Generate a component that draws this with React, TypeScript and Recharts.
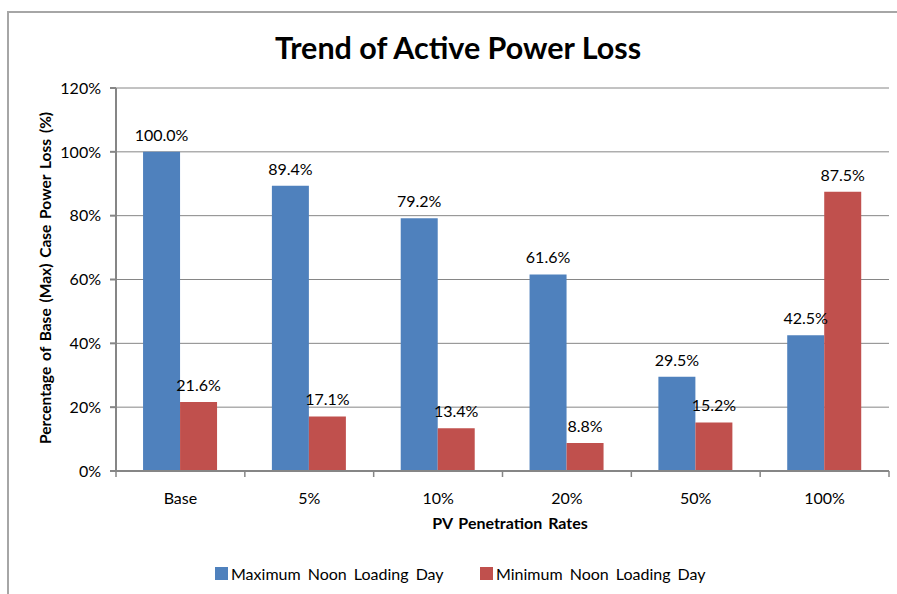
import { BarChart, Bar, XAxis, YAxis, CartesianGrid, LabelList } from 'recharts';

const categories = ['Base', '5%', '10%', '20%', '50%', '100%'];
const maxNoonDay = [100.0, 89.4, 79.2, 61.6, 29.5, 42.5];
const minNoonDay = [21.6, 17.1, 13.4, 8.8, 15.2, 87.5];
const yTicks = [0, 20, 40, 60, 80, 100, 120];

const BLUE = '#4F81BD';
const RED = '#C0504D';
const AXIS = '#868686';
const FONT = 'Lato, "Open Sans", sans-serif';

const data = categories.map((c, i) => ({
  name: c,
  max: maxNoonDay[i],
  min: minNoonDay[i],
}));

const W = 897;
const H = 594;
const M = { top: 88, right: 8, left: 36, bottom: 93 };
const Y_AXIS_W = 80;
const plotW = W - M.left - Y_AXIS_W - M.right;
const step = plotW / categories.length;

function XTick(props: any) {
  const { x, y, payload, index } = props;
  return (
    <g>
      <line x1={x - step / 2} x2={x - step / 2} y1={y} y2={y + 6} stroke={AXIS} strokeWidth={1.5} />
      {index === categories.length - 1 && (
        <line x1={x + step / 2} x2={x + step / 2} y1={y} y2={y + 6} stroke={AXIS} strokeWidth={1.5} />
      )}
      <text x={x} y={y + 26} textAnchor="middle" dominantBaseline="central" fontSize={16} fill="#000" fontFamily={FONT}>
        {payload.value}
      </text>
    </g>
  );
}

const fmt = (v: any) => `${Number(v).toFixed(1)}%`;

export default function App() {
  return (
    <div style={{ position: 'absolute', left: 0, top: 0, width: W, height: H, overflow: 'hidden', background: '#fff', fontFamily: FONT }}>
      <div style={{ position: 'absolute', left: 7, top: 11, width: 1000, height: 1000, borderLeft: '2px solid #a6a6a6', borderTop: '2px solid #a6a6a6' }} />
      <div style={{ position: 'absolute', left: 458, top: 47, transform: 'translate(-50%, -50%)', whiteSpace: 'nowrap', fontSize: 30.5, fontWeight: 700, color: '#000' }}>
        Trend of Active Power Loss
      </div>
      <BarChart
        width={W}
        height={H}
        data={data}
        margin={M}
        barCategoryGap="21%"
        barGap={0}
        style={{ position: 'absolute', left: 0, top: 0 }}
      >
        <CartesianGrid vertical={false} stroke={AXIS} strokeWidth={1} />
        <XAxis
          dataKey="name"
          stroke={AXIS}
          strokeWidth={2}
          tickLine={false}
          tickSize={0}
          tickMargin={0}
          height={30}
          tick={<XTick />}
          interval={0}
        />
        <YAxis
          width={Y_AXIS_W}
          domain={[0, 120]}
          ticks={yTicks}
          stroke={AXIS}
          strokeWidth={2}
          tickSize={6}
          tickMargin={9}
          tickFormatter={(v) => `${v}%`}
          tick={{ fontSize: 16, fill: '#000', fontFamily: FONT }}
        />
        <Bar dataKey="max" name="Maximum Noon Loading Day" fill={BLUE} isAnimationActive={false}>
          <LabelList dataKey="max" position="top" offset={11} formatter={fmt} fontSize={16} fill="#000" fontFamily={FONT} />
        </Bar>
        <Bar dataKey="min" name="Minimum Noon Loading Day" fill={RED} isAnimationActive={false}>
          <LabelList dataKey="min" position="top" offset={11} formatter={fmt} fontSize={16} fill="#000" fontFamily={FONT} />
        </Bar>
      </BarChart>
      <div style={{ position: 'absolute', left: 45, top: 278, transform: 'translate(-50%, -50%) rotate(-90deg)', whiteSpace: 'nowrap', fontSize: 15.5, fontWeight: 700, color: '#000', wordSpacing: 2 }}>
        Percentage of Base (Max) Case Power Loss (%)
      </div>
      <div style={{ position: 'absolute', left: 510, top: 522, transform: 'translate(-50%, -50%)', whiteSpace: 'nowrap', fontSize: 16, fontWeight: 700, color: '#000', wordSpacing: 2 }}>
        PV Penetration Rates
      </div>
      <div style={{ position: 'absolute', left: 215, top: 564, display: 'flex', alignItems: 'center', fontSize: 16, color: '#000', whiteSpace: 'nowrap' }}>
        <span style={{ width: 13, height: 13, background: BLUE, display: 'inline-block', marginRight: 3 }} />
        <span style={{ wordSpacing: 3, width: 213, display: 'inline-block' }}>Maximum Noon Loading Day</span>
        <span style={{ width: 13, height: 13, background: RED, display: 'inline-block', marginLeft: 36, marginRight: 3 }} />
        <span style={{ wordSpacing: 3 }}>Minimum Noon Loading Day</span>
      </div>
    </div>
  );
}
